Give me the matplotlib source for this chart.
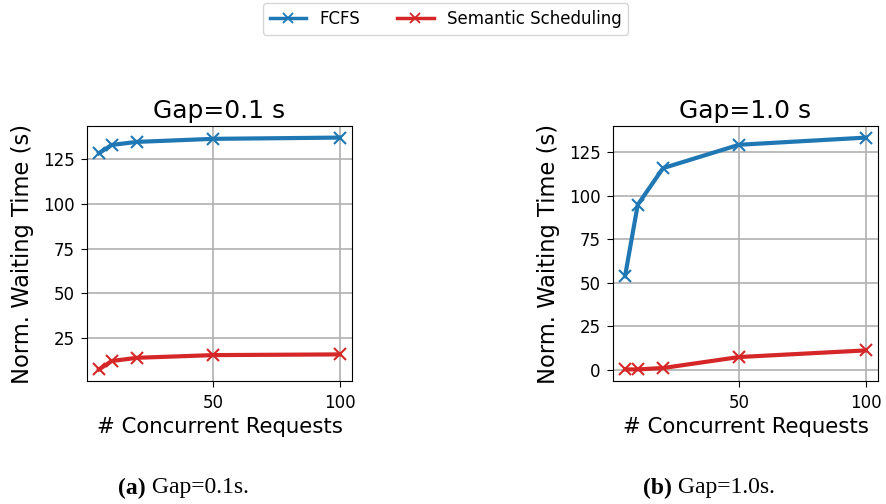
import matplotlib
matplotlib.use("Agg")
import matplotlib.pyplot as plt
from matplotlib.lines import Line2D

requests = [5, 10, 20, 50, 100]

# Gap = 0.1 s
fcfs_01 = [128.4, 133.0, 134.7, 136.4, 137.1]
sem_01 = [7.4, 12.1, 13.9, 15.4, 15.8]

# Gap = 1.0 s
fcfs_10 = [53.8, 94.8, 115.8, 129.2, 133.3]
sem_10 = [0.4, 0.4, 1.2, 7.5, 11.3]

panels = [
    ("Gap=0.1 s", fcfs_01, sem_01, "(a)", " Gap=0.1s."),
    ("Gap=1.0 s", fcfs_10, sem_10, "(b)", " Gap=1.0s."),
]

W, H = 886, 504
fig = plt.figure(figsize=(W / 100, H / 100), dpi=100)

lefts = [87, 613]
tag_right = [146, 672]
for left, tx, (title, fcfs, sem, tag, cap) in zip(lefts, tag_right, panels):
    ax = fig.add_axes([left / W, 1 - 381 / H, 265 / W, 255 / H])
    ax.plot(requests, fcfs, marker="x", color="tab:blue", lw=3,
            markersize=9, mew=1.5)
    ax.plot(requests, sem, marker="x", color="tab:red", lw=3,
            markersize=9, mew=1.5)
    ax.set_title(title, fontsize=18)
    ax.set_xlabel("# Concurrent Requests", fontsize=15.3, labelpad=4)
    ax.set_ylabel("Norm. Waiting Time (s)", fontsize=16.3, labelpad=6)
    ax.set_xticks([50, 100])
    ax.tick_params(labelsize=12, length=4, pad=5)
    ax.grid(True, color="#b0b0b0", lw=1.2)
    ax.set_axisbelow(True)

    # subfigure caption
    fig.text(tx / W, 1 - 488 / H, tag, ha="right", va="center",
             family="Liberation Serif", fontweight="bold", fontsize=17)
    fig.text(tx / W, 1 - 488 / H, cap, ha="left", va="center",
             family="Liberation Serif", fontsize=17)

handles = [
    Line2D([], [], color="tab:blue", lw=2.5, marker="x", markersize=7, mew=1.3),
    Line2D([], [], color="tab:red", lw=2.5, marker="x", markersize=7, mew=1.3),
]
fig.legend(handles, ["FCFS", "Semantic Scheduling"], loc="upper center",
           bbox_to_anchor=(0.503, 1.003), ncol=2, fontsize=12, frameon=True,
           handlelength=2.2, columnspacing=2.2, borderaxespad=0.3)

fig.savefig("out.png", dpi=100)
